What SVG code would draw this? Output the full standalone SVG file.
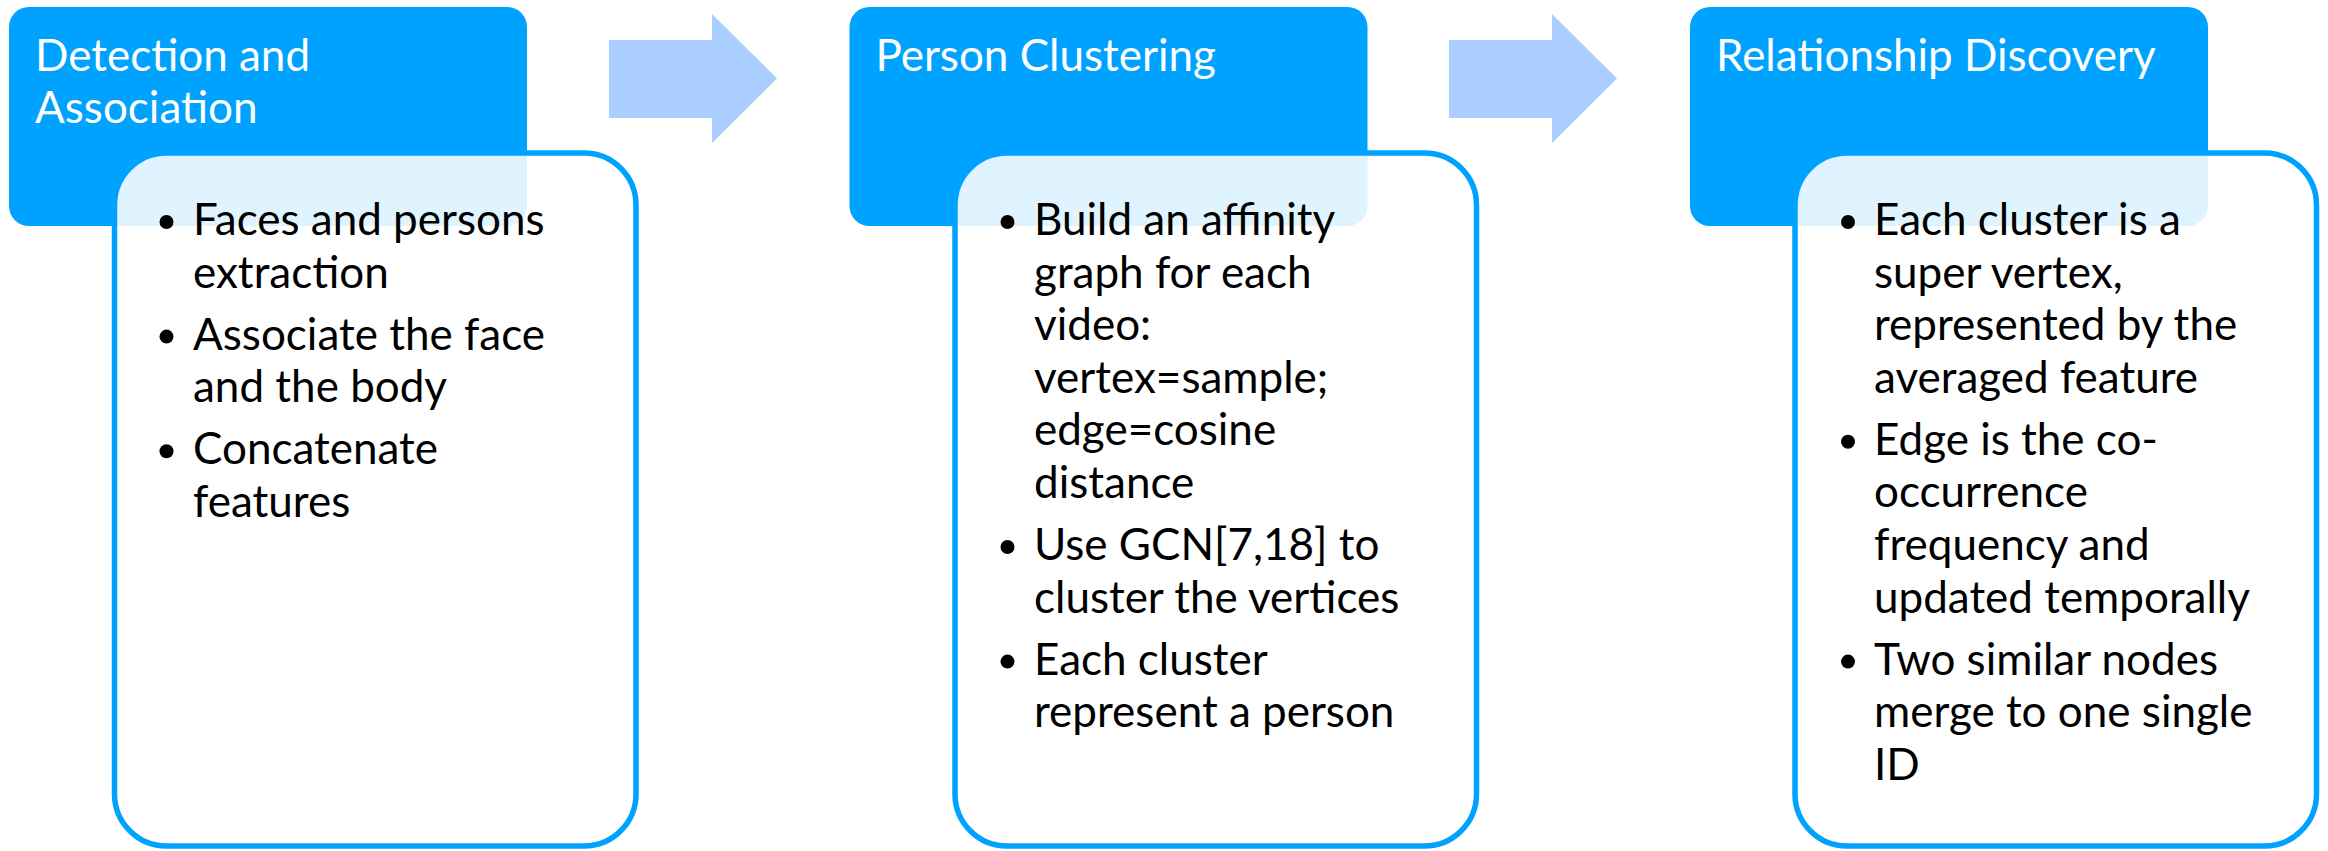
<svg xmlns="http://www.w3.org/2000/svg" width="2328" height="851" viewBox="0 0 2328 851">
<style>
.title{fill:#00A2FF;}
.card{fill:#FFFFFF;fill-opacity:0.88;stroke:#00A2FF;stroke-width:5.5;}
.ttl{font-family:Lato,"Liberation Sans",sans-serif;font-size:44px;fill:#FFFFFF;}
.body{font-family:Lato,"Liberation Sans",sans-serif;font-size:44px;fill:#000000;}
.dot{fill:#000000;}
.arrow{fill:#AACEFF;}
</style>
<rect width="2328" height="851" fill="#FFFFFF"/>
<g id="connectors">
<polygon class="arrow" points="609,40 712,40 712,14 777,78.5 712,143 712,118 609,118"/>
<polygon class="arrow" points="1449,40 1552,40 1552,14 1617,78.5 1552,143 1552,118 1449,118"/>
</g>
<g id="node-detection">
<rect class="title" x="9" y="7" width="518" height="219" rx="20"/>
<text class="ttl"><tspan x="35" y="71">Detection and</tspan><tspan x="35" y="123">Association</tspan></text>
<rect class="card" x="114.5" y="153" width="521.5" height="693" rx="52"/>
<circle class="dot" cx="166.5" cy="222" r="7"/>
<circle class="dot" cx="166.5" cy="336.6" r="7"/>
<circle class="dot" cx="166.5" cy="451.2" r="7"/>
<text class="body"><tspan x="193" y="235">Faces and persons</tspan><tspan x="193" y="287.6">extraction</tspan><tspan x="193" y="349.6">Associate the face</tspan><tspan x="193" y="402.2">and the body</tspan><tspan x="193" y="464.2">Concatenate</tspan><tspan x="193" y="516.8">features</tspan></text>
</g>
<g id="node-clustering">
<rect class="title" x="849.5" y="7" width="518" height="219" rx="20"/>
<text class="ttl"><tspan x="875.5" y="71">Person Clustering</tspan></text>
<rect class="card" x="955" y="153" width="521.5" height="693" rx="52"/>
<circle class="dot" cx="1007.5" cy="222" r="7"/>
<circle class="dot" cx="1007.5" cy="547" r="7"/>
<circle class="dot" cx="1007.5" cy="661.6" r="7"/>
<text class="body"><tspan x="1034" y="235">Build an affinity</tspan><tspan x="1034" y="287.6">graph for each</tspan><tspan x="1034" y="340.2">video:</tspan><tspan x="1034" y="392.8">vertex=sample;</tspan><tspan x="1034" y="445.4">edge=cosine</tspan><tspan x="1034" y="498">distance</tspan><tspan x="1034" y="560">Use GCN[7,18] to</tspan><tspan x="1034" y="612.6">cluster the vertices</tspan><tspan x="1034" y="674.6">Each cluster</tspan><tspan x="1034" y="727.2">represent a person</tspan></text>
</g>
<g id="node-relationship">
<rect class="title" x="1690" y="7" width="518" height="219" rx="20"/>
<text class="ttl"><tspan x="1716" y="71">Relationship Discovery</tspan></text>
<rect class="card" x="1795" y="153" width="521.5" height="693" rx="52"/>
<circle class="dot" cx="1848" cy="222" r="7"/>
<circle class="dot" cx="1848" cy="441.8" r="7"/>
<circle class="dot" cx="1848" cy="661.6" r="7"/>
<text class="body"><tspan x="1874" y="235">Each cluster is a</tspan><tspan x="1874" y="287.6">super vertex,</tspan><tspan x="1874" y="340.2">represented by the</tspan><tspan x="1874" y="392.8">averaged feature</tspan><tspan x="1874" y="454.8">Edge is the co-</tspan><tspan x="1874" y="507.4">occurrence</tspan><tspan x="1874" y="560">frequency and</tspan><tspan x="1874" y="612.6">updated temporally</tspan><tspan x="1874" y="674.6">Two similar nodes</tspan><tspan x="1874" y="727.2">merge to one single</tspan><tspan x="1874" y="779.8">ID</tspan></text>
</g>
</svg>
